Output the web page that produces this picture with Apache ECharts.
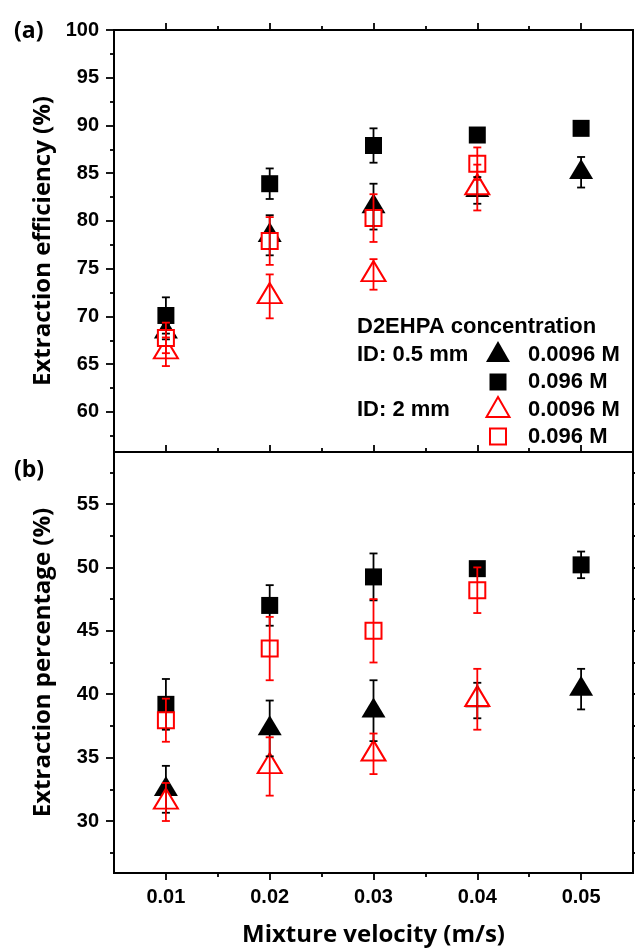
<!DOCTYPE html>
<html>
<head>
<meta charset="utf-8">
<script src="https://cdn.jsdelivr.net/npm/echarts@6/dist/echarts.min.js"></script>
<style>
html,body{margin:0;padding:0;background:#fff;}
#chart{width:635px;height:950px;}
</style>
</head>
<body>
<div id="chart"></div>
<script>
// ---- data ----
const velocity = [0.01, 0.02, 0.03, 0.04, 0.05];

// (a) Extraction efficiency (%)
const effTriBlack    = [68.4, 78.5, 81.5, 83.2, 85.1];
const effTriBlackErr = [0.8, 2.1, 2.4, 1.4, 1.6];
const effSqBlack     = [70.1, 83.9, 87.9, 89.0, 89.7];
const effSqBlackErr  = [1.9, 1.6, 1.8, 0.5, 0.6];
const effTriRed      = [66.3, 72.1, 74.4, 83.5];
const effTriRedErr   = [1.5, 2.3, 1.6, 2.4];
const effSqRed       = [67.75, 77.9, 80.3, 86.0];
const effSqRedErr    = [1.6, 2.5, 2.5, 1.7];

// (b) Extraction percentage (%)
const pctTriBlack    = [32.5, 37.3, 38.7, 39.5, 40.4];
const pctTriBlackErr = [1.85, 2.2, 2.4, 1.4, 1.6];
const pctSqBlack     = [39.2, 47.0, 49.25, 49.9, 50.2];
const pctSqBlackErr  = [2.0, 1.6, 1.85, 0.5, 1.05];
const pctTriRed      = [31.5, 34.3, 35.3, 39.6];
const pctTriRedErr   = [1.5, 2.3, 1.6, 2.4];
const pctSqRed       = [37.95, 43.6, 45.0, 48.2];
const pctSqRedErr    = [1.7, 2.5, 2.5, 1.8];

// ticks
const xMajorTicks = [0.01, 0.02, 0.03, 0.04, 0.05];
const xMinorTicks = [0.015, 0.025, 0.035, 0.045];
const effMajorTicks = [60, 65, 70, 75, 80, 85, 90, 95, 100];
const effMinorTicks = [57.5, 62.5, 67.5, 72.5, 77.5, 82.5, 87.5, 92.5, 97.5];
const pctMajorTicks = [30, 35, 40, 45, 50, 55];
const pctMinorTicks = [27.5, 32.5, 37.5, 42.5, 47.5, 52.5, 57.5];

const xRange = [0.005, 0.055];
const effRange = [55.8, 100];
const pctRange = [25.9, 59.1];

// legend texts
const legendTitle = 'D2EHPA concentration';
const groupLabels = ['ID: 0.5 mm', 'ID: 2 mm'];
const concLabels = ['0.0096 M', '0.096 M', '0.0096 M', '0.096 M'];

// ---- chart ----
const chart = echarts.init(document.getElementById('chart'), null, {renderer: 'canvas'});
const ARIAL = "'Liberation Sans'";
const tickFont = {fontFamily: ARIAL, fontWeight: 'bold', fontSize: 20, color: '#000'};
const titleFont = {fontFamily: "'Open Sans'", fontWeight: 'bold', fontSize: 24, color: '#000'};
const lineStyle = {color: '#000', width: 2};

function ax(grid, pos, range, ticks, len, opts) {
  return Object.assign({
    type: 'value', gridIndex: grid, position: pos, min: range[0], max: range[1],
    axisLine: {show: true, onZero: false, lineStyle: lineStyle},
    axisTick: ticks ? {show: true, customValues: ticks, length: len, inside: false, lineStyle: {color: '#000', width: 1.8}} : {show: false},
    axisLabel: {show: false},
    splitLine: {show: false}
  }, opts || {});
}

// grids: 0 = top main, 1 = top minor-tick overlay, 2 = bottom main, 3 = bottom minor-tick overlay
const xAxes = [
  ax(0, 'bottom', xRange, null, 0),              // 0
  ax(0, 'top', xRange, xMajorTicks, 7),          // 1
  ax(1, 'bottom', xRange, null, 0),              // 2
  ax(1, 'top', xRange, xMinorTicks, 4),          // 3
  ax(2, 'bottom', xRange, xMajorTicks, 7, {      // 4
    axisLabel: Object.assign({show: true, customValues: xMajorTicks, margin: 14,
      formatter: v => v.toFixed(2)}, tickFont),
    name: 'Mixture velocity (m/s)', nameLocation: 'middle', nameGap: 50,
    nameTextStyle: titleFont
  }),
  ax(2, 'top', xRange, xMajorTicks, 7),          // 5
  ax(3, 'bottom', xRange, xMinorTicks, 4),       // 6
  ax(3, 'top', xRange, xMinorTicks, 4)           // 7
];
const yAxes = [
  ax(0, 'left', effRange, effMajorTicks, 8, {    // 0
    axisLabel: Object.assign({show: true, customValues: effMajorTicks, margin: 15}, tickFont),
    name: 'Extraction efficiency (%)', nameLocation: 'middle', nameGap: 54,
    nameTextStyle: titleFont
  }),
  ax(0, 'right', effRange, null, 0),             // 1
  ax(1, 'left', effRange, effMinorTicks, 4),     // 2
  ax(1, 'right', effRange, null, 0),             // 3
  ax(2, 'left', pctRange, pctMajorTicks, 8, {    // 4
    axisLabel: Object.assign({show: true, customValues: pctMajorTicks, margin: 15}, tickFont),
    name: 'Extraction percentage (%)', nameLocation: 'middle', nameGap: 59,
    nameTextStyle: titleFont
  }),
  ax(2, 'right', pctRange, pctMajorTicks, 8),    // 5
  ax(3, 'left', pctRange, pctMinorTicks, 4),     // 6
  ax(3, 'right', pctRange, pctMinorTicks, 4)     // 7
];

function pts(vals, errs) {
  return vals.map((v, i) => [velocity[i], v, errs[i]]);
}
function errSeries(xi, yi, vals, errs, color) {
  return {
    type: 'custom', xAxisIndex: xi, yAxisIndex: yi, z: 5,
    data: pts(vals, errs), encode: {x: 0, y: 1},
    renderItem: function (params, api) {
      const x = api.value(0), y = api.value(1), e = api.value(2);
      const t = api.coord([x, y + e]);
      const b = api.coord([x, y - e]);
      const hw = 4;
      const st = {stroke: color, lineWidth: 1.8};
      return {type: 'group', children: [
        {type: 'line', shape: {x1: t[0], y1: t[1], x2: b[0], y2: b[1]}, style: st},
        {type: 'line', shape: {x1: t[0] - hw, y1: t[1], x2: t[0] + hw, y2: t[1]}, style: st},
        {type: 'line', shape: {x1: b[0] - hw, y1: b[1], x2: b[0] + hw, y2: b[1]}, style: st}
      ]};
    }
  };
}
const triStyle = {symbol: 'triangle', symbolSize: [24, 20], symbolOffset: [0, -3.3]};
function scat(name, xi, yi, vals, shape, hollow) {
  return Object.assign({
    name: name, type: 'scatter', xAxisIndex: xi, yAxisIndex: yi, z: 3,
    data: vals.map((v, i) => [velocity[i], v]),
    itemStyle: hollow ? {color: '#fff', borderColor: '#ff0000', borderWidth: 2, opacity: 1}
                      : {color: '#000', opacity: 1},
    emphasis: {disabled: true}
  }, shape === 'tri' ? triStyle : (hollow ? {symbol: 'rect', symbolSize: 16} : {symbol: 'rect', symbolSize: 17}));
}

const series = [
  scat('0.5 mm 0.0096 M', 0, 0, effTriBlack, 'tri', false),
  scat('0.5 mm 0.096 M', 0, 0, effSqBlack, 'sq', false),
  scat('2 mm 0.0096 M', 0, 0, effTriRed, 'tri', true),
  scat('2 mm 0.096 M', 0, 0, effSqRed, 'sq', true),
  errSeries(0, 0, effTriBlack, effTriBlackErr, '#000'),
  errSeries(0, 0, effSqBlack, effSqBlackErr, '#000'),
  errSeries(0, 0, effTriRed, effTriRedErr, '#ff0000'),
  errSeries(0, 0, effSqRed, effSqRedErr, '#ff0000'),

  scat('0.5 mm 0.0096 M', 4, 4, pctTriBlack, 'tri', false),
  scat('0.5 mm 0.096 M', 4, 4, pctSqBlack, 'sq', false),
  scat('2 mm 0.0096 M', 4, 4, pctTriRed, 'tri', true),
  scat('2 mm 0.096 M', 4, 4, pctSqRed, 'sq', true),
  errSeries(4, 4, pctTriBlack, pctTriBlackErr, '#000'),
  errSeries(4, 4, pctSqBlack, pctSqBlackErr, '#000'),
  errSeries(4, 4, pctTriRed, pctTriRedErr, '#ff0000'),
  errSeries(4, 4, pctSqRed, pctSqRedErr, '#ff0000')
];

const legFont = {fontFamily: ARIAL, fontWeight: 'bold', fontSize: 22, fill: '#000', verticalAlign: 'middle'};
const legX = 357, symX = 498, valX = 528;
const rowY = [355, 382, 410, 437];
function gtext(text, x, y, font) {
  return {type: 'text', x: x, y: y, z: 10, style: Object.assign({text: text}, font)};
}
const panelFont = {fontFamily: "'Open Sans'", fontWeight: 'bold', fontSize: 23, fill: '#000', verticalAlign: 'middle'};
const graphic = [
  gtext('(a)', 14, 31, panelFont),
  gtext('(b)', 14, 470, panelFont),
  gtext(legendTitle, legX, 327, legFont),
  gtext(groupLabels[0], legX, rowY[0], legFont),
  gtext(groupLabels[1], legX, rowY[2], legFont),
  {type: 'polygon', z: 10, shape: {points: [[symX, rowY[0] - 14], [symX + 12, rowY[0] + 7], [symX - 12, rowY[0] + 7]]}, style: {fill: '#000'}},
  {type: 'rect', z: 10, shape: {x: symX - 8.5, y: rowY[1] - 8.5, width: 17, height: 17}, style: {fill: '#000'}},
  {type: 'polygon', z: 10, shape: {points: [[symX, rowY[2] - 13], [symX + 11.5, rowY[2] + 7], [symX - 11.5, rowY[2] + 7]]}, style: {fill: '#fff', stroke: '#ff0000', lineWidth: 2}},
  {type: 'rect', z: 10, shape: {x: symX - 8, y: rowY[3] - 8.5, width: 16, height: 16}, style: {fill: '#fff', stroke: '#ff0000', lineWidth: 2}}
];
concLabels.forEach((t, i) => graphic.push(gtext(t, valX, rowY[i], legFont)));

const topBox = {left: 114, top: 30, right: 2, height: 422};
const botBox = {left: 114, top: 452, right: 2, height: 421};
chart.setOption({
  animation: false,
  backgroundColor: '#fff',
  grid: [topBox, topBox, botBox, botBox],
  xAxis: xAxes,
  yAxis: yAxes,
  series: series,
  graphic: graphic
});
</script>
</body>
</html>
